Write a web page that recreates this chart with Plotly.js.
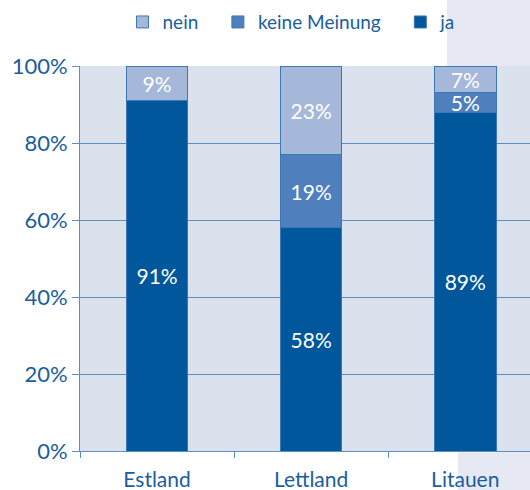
<!DOCTYPE html>
<html>
<head>
<meta charset="utf-8">
<script src="https://cdn.plot.ly/plotly-3.0.1.min.js"></script>
<style>
  html, body { margin: 0; padding: 0; background: #ffffff; }
  #chart { width: 530px; height: 490px; }
</style>
</head>
<body>
<div id="chart"></div>
<script>
// Data
const countries = ['Estland', 'Lettland', 'Litauen'];
const jaValues = [91, 58, 88];
const keineValues = [0, 19, 5];
const neinValues = [9, 23, 7];
const jaLabels = ['91%', '58%', '89%'];
const keineLabels = ['', '19%', '5%'];
const neinLabels = ['9%', '23%', '7%'];
const yTicks = [0, 20, 40, 60, 80, 100];
const yTickLabels = ['0%', '20%', '40%', '60%', '80%', '100%'];

const textBlue = '#1a5e9e';
const lineBlue = '#5a8fc4';
const fontFamily = 'Lato, "Open Sans", sans-serif';
const pad = '\u00a0\u00a0\u00a0';

function barTrace(name, values, labels, color) {
    return {
        type: 'bar',
        name: name,
        x: countries,
        y: values,
        text: labels,
        textposition: 'inside',
        insidetextanchor: 'middle',
        constraintext: 'none',
        textfont: { family: fontFamily, size: 21, color: '#ffffff' },
        width: 0.4,
        marker: { color: color, line: { color: '#3d78b6', width: 1 } },
        hoverinfo: 'none'
    };
}

const traces = [
    barTrace('ja', jaValues, jaLabels, '#00579c'),
    barTrace('keine Meinung' + pad, keineValues, keineLabels, '#4f80bd'),
    barTrace('nein' + pad, neinValues, neinLabels, '#a5b8d9')
];

const layout = {
    width: 530,
    height: 490,
    barmode: 'stack',
    paper_bgcolor: '#ffffff',
    plot_bgcolor: '#dce1ee',
    margin: { l: 80, r: 0, t: 66, b: 39 },
    font: { family: fontFamily, color: textBlue },
    showlegend: true,
    legend: {
        orientation: 'h',
        traceorder: 'reversed',
        itemwidth: 30,
        x: 0.47,
        xanchor: 'center',
        y: 1.114,
        yanchor: 'middle',
        font: { family: fontFamily, size: 19, color: textBlue },
        bgcolor: 'rgba(0,0,0,0)'
    },
    xaxis: {
        range: [-0.5, 2.42],
        showgrid: false,
        showline: true,
        linecolor: lineBlue,
        linewidth: 1,
        ticks: 'outside',
        tickson: 'boundaries',
        ticklen: 6,
        tickcolor: lineBlue,
        ticklabelstandoff: 10,
        tickfont: { family: fontFamily, size: 21, color: textBlue }
    },
    yaxis: {
        range: [0, 100],
        tickvals: yTicks,
        ticktext: yTickLabels,
        showgrid: true,
        gridcolor: lineBlue,
        gridwidth: 1,
        zeroline: false,
        showline: true,
        linecolor: lineBlue,
        linewidth: 1,
        ticks: 'outside',
        ticklen: 7,
        tickcolor: lineBlue,
        tickfont: { family: fontFamily, size: 22, color: textBlue }
    },
    shapes: [
        // light panel on the right edge, top and bottom margins
        { type: 'rect', xref: 'paper', yref: 'paper', x0: 0.8156, x1: 1.01, y0: 1.0, y1: 1.2,
          fillcolor: '#e6e9f3', line: { width: 0 }, layer: 'below' },
        { type: 'rect', xref: 'paper', yref: 'paper', x0: 0.84, x1: 1.01, y0: -0.12, y1: -0.003,
          fillcolor: '#e6e9f3', line: { width: 0 }, layer: 'below' }
    ]
};

Plotly.newPlot('chart', traces, layout, { displayModeBar: false, staticPlot: true });
</script>
</body>
</html>
